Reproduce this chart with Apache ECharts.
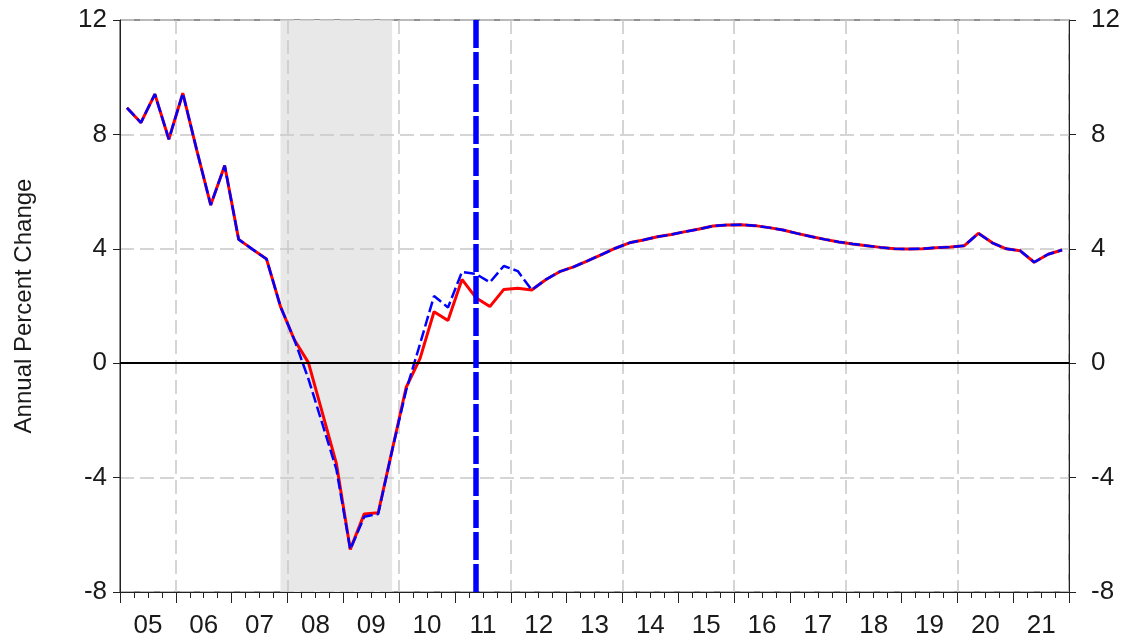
<!DOCTYPE html>
<html>
<head>
<meta charset="utf-8">
<script src="https://cdn.jsdelivr.net/npm/echarts@6/dist/echarts.min.js"></script>
<style>
  html, body { margin: 0; padding: 0; background: #fff; }
  #chart { width: 1123px; height: 643px; }
</style>
</head>
<body>
<div id="chart"></div>
<script>
// ---- data ----
var years = ['05','06','07','08','09','10','11','12','13','14','15','16','17','18','19','20','21'];
var quarterNames = ['Q1','Q2','Q3','Q4'];
var yTicks = [-8, -4, 0, 4, 8, 12];

// red solid series (annual percent change, quarterly 2005Q1 - 2021Q4)
var redSeries = [
  8.93, 8.41, 9.41, 7.83,
  9.44, 7.45, 5.53, 6.91,
  4.33, 3.98, 3.64, 1.98,
  0.81, 0.02, -1.74, -3.50,
  -6.51, -5.27, -5.23, -3.04,
  -0.85, 0.17, 1.80, 1.49,
  2.93, 2.29, 1.98, 2.58,
  2.62, 2.56, 2.92, 3.20,
  3.37, 3.58, 3.80, 4.02,
  4.21, 4.31, 4.42, 4.50,
  4.60, 4.69, 4.80, 4.83,
  4.84, 4.81, 4.74, 4.66,
  4.54, 4.43, 4.33, 4.24,
  4.17, 4.11, 4.05, 4.00,
  3.99, 4.00, 4.04, 4.06,
  4.11, 4.54, 4.21, 4.00,
  3.93, 3.53, 3.81, 3.96
];
// blue dashed series
var blueSeries = [
  8.93, 8.41, 9.41, 7.83,
  9.44, 7.45, 5.53, 6.91,
  4.33, 3.98, 3.64, 1.98,
  0.81, -0.55, -2.12, -3.70,
  -6.51, -5.37, -5.27, -3.04,
  -0.95, 0.68, 2.35, 1.95,
  3.19, 3.12, 2.83, 3.40,
  3.22, 2.56, 2.92, 3.20,
  3.37, 3.58, 3.80, 4.02,
  4.21, 4.31, 4.42, 4.50,
  4.60, 4.69, 4.80, 4.83,
  4.84, 4.81, 4.74, 4.66,
  4.54, 4.43, 4.33, 4.24,
  4.17, 4.11, 4.05, 4.00,
  3.99, 4.00, 4.04, 4.06,
  4.11, 4.54, 4.21, 4.00,
  3.93, 3.53, 3.81, 3.96
];
var recessionStart = '07Q4';
var recessionEnd = '09Q4';
var forecastMark = '11Q2';
var yTitle = 'Annual Percent Change';

// ---- build ----
var quarters = [];
years.forEach(function (y) { quarterNames.forEach(function (q) { quarters.push(y + q); }); });

var FONT = '"Liberation Sans", Arial, sans-serif';
var gridColor = '#c8c8c8';

var yAxisBase = {
  type: 'value', min: -8, max: 12, interval: 4, z: 2,
  axisLine: { show: true, lineStyle: { color: '#222', width: 1 } },
  axisTick: { show: true, inside: false, length: 7, lineStyle: { color: '#222', width: 1 } },
  axisLabel: { fontFamily: FONT, fontSize: 26, color: '#1a1a1a' }
};

var option = {
  animation: false,
  backgroundColor: '#fff',
  grid: { left: 120, right: 50, top: 20, bottom: 51, show: true, borderColor: '#222', borderWidth: 1, backgroundColor: 'transparent' },
  xAxis: [
    {
      type: 'category', data: quarters, position: 'bottom', boundaryGap: true, z: 2,
      axisLine: { show: true, onZero: false, lineStyle: { color: '#222', width: 1 } },
      axisTick: { show: true, interval: 0, length: 6, lineStyle: { color: '#222' } },
      axisLabel: { show: false },
      splitLine: { show: false }
    },
    {
      type: 'category', data: years, position: 'bottom', boundaryGap: true, z: 2,
      axisLine: { show: true, onZero: false, lineStyle: { color: '#222', width: 1 } },
      axisTick: { show: true, interval: 0, length: 11, lineStyle: { color: '#222' } },
      axisLabel: { interval: 0, fontFamily: FONT, fontSize: 26, color: '#1a1a1a', margin: 21 },
      splitLine: {
        show: true,
        interval: function (i) { return i % 2 === 1; },
        lineStyle: { color: gridColor, width: 1.5, type: [14, 6] }
      }
    }
  ],
  yAxis: [
    Object.assign({}, yAxisBase, {
      position: 'left',
      name: yTitle, nameLocation: 'middle', nameGap: 84, nameRotate: 90,
      nameTextStyle: { fontFamily: FONT, fontSize: 24, color: '#1a1a1a' },
      axisLabel: Object.assign({}, yAxisBase.axisLabel, { margin: 13 }),
      splitLine: { show: true, lineStyle: { color: gridColor, width: 1.5, type: [14, 6] } }
    }),
    Object.assign({}, yAxisBase, {
      position: 'right',
      axisLabel: Object.assign({}, yAxisBase.axisLabel, { margin: 22 }),
      splitLine: { show: false }
    })
  ],
  series: [
    {
      name: 'shade', type: 'line', xAxisIndex: 0, yAxisIndex: 0, data: [], z: 1,
      markArea: {
        silent: true, z: 1,
        itemStyle: { color: '#e8e8e8' },
        data: [[{ xAxis: recessionStart }, { xAxis: recessionEnd }]]
      }
    },
    {
      name: 'red', type: 'line', xAxisIndex: 0, yAxisIndex: 0, data: redSeries, z: 3,
      symbol: 'none', smooth: false,
      lineStyle: { color: '#ff0000', width: 3 }
    },
    {
      name: 'blue', type: 'line', xAxisIndex: 0, yAxisIndex: 0, data: blueSeries, z: 4,
      symbol: 'none', smooth: false,
      lineStyle: { color: '#0000ff', width: 2.5, type: [11, 4] },
      markLine: {
        silent: true, symbol: 'none', z: 5,
        label: { show: false },
        data: [
          { yAxis: 0, lineStyle: { color: '#000', width: 2, type: 'solid' } },
          { xAxis: forecastMark, lineStyle: { color: '#0000ff', width: 5.5, type: [28, 4] } }
        ]
      }
    }
  ]
};

var chart = echarts.init(document.getElementById('chart'), null, { renderer: 'canvas' });
chart.setOption(option);
</script>
</body>
</html>
